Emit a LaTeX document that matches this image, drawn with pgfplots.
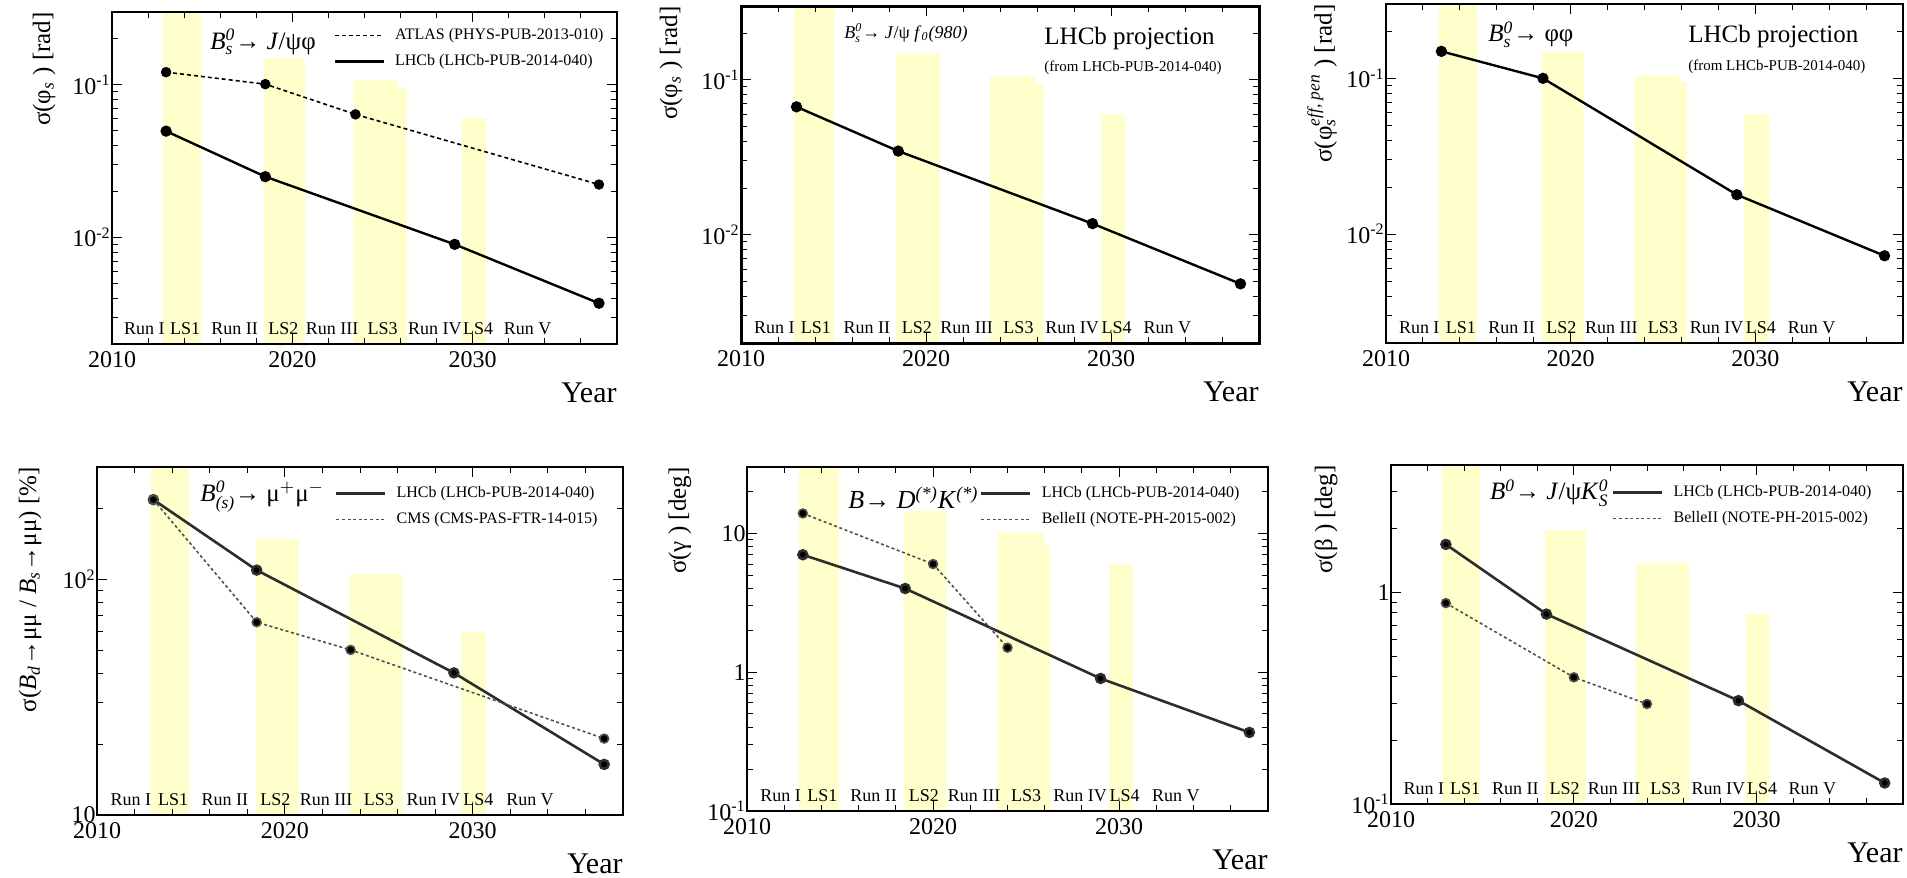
\documentclass[border=0pt]{standalone}
\usepackage{amsmath}
\usepackage{fontspec}
\setmainfont{Liberation Serif}
\usepackage{pgfplots}
\pgfplotsset{compat=1.18}

\definecolor{lsyel}{RGB}{255,255,204}
\definecolor{dkline}{RGB}{45,45,45}
\definecolor{dsline}{RGB}{80,80,80}

\tikzset{
  runlab/.style={anchor=base, yshift=4.75pt, inner sep=0pt, font=\fontsize{9}{9}\selectfont},
  proc/.style={anchor=west, inner sep=0pt, font=\fontsize{12.5}{12.5}\selectfont},
  mainline/.style={black, line width=1.2pt, mark=*, mark size=2.2pt, mark options={solid, fill=black}},
  altline/.style={black, line width=0.8pt, dash pattern=on 2pt off 1.5pt, mark=*, mark size=2.2pt, mark options={solid, fill=black}},
  mainlineb/.style={dkline, line width=1.3pt, mark=*, mark size=2.2pt, mark options={solid, fill=black}},
  altlineb/.style={dsline, line width=0.8pt, dash pattern=on 1.5pt off 1.3pt, mark=*, mark size=2.2pt, mark options={solid, fill=black}},
}

\pgfplotsset{
  lhcb/.style={
    scale only axis, anchor=south west,
    xmin=2010, xmax=2038,
    xtick={2010,2020,2030}, minor xtick={2012,2014,...,2038},
    tick align=inside,
    axis line style={line width=0.75pt},
    major tick length=5pt, minor tick length=3pt,
    every tick/.style={black, line width=0.5pt},
    tick label style={font=\fontsize{12}{12}\selectfont},
    xticklabel style={/pgf/number format/1000 sep={}, /pgf/number format/assume math mode=true},
    yticklabel style={inner sep=0.5pt},
    axis on top,
    xlabel={Year},
    xlabel style={at={(rel axis cs:1,0)}, anchor=north east, yshift=-19pt, inner sep=0pt,
      font=\fontsize{15}{15}\selectfont},
    ylabel style={anchor=east, inner sep=0pt, font=\fontsize{12.5}{12.5}\selectfont},
    legend cell align=left,
    legend image code/.code={\draw[##1, mark=none] (0pt,0pt) -- (24.5pt,0pt);},
    legend style={anchor=north east, draw=none, fill=none, inner sep=0pt, row sep=4pt,
      font=\fontsize{8}{8}\selectfont, nodes={inner sep=1pt},
      /tikz/every odd column/.append style={column sep=4pt}},
  },
  toprow/.style={ytick={0.01,0.1}, yticklabels={10\textsuperscript{-2},10\textsuperscript{-1}},
    minor ytick={0.002,0.003,0.004,0.005,0.006,0.007,0.008,0.009,0.02,0.03,0.04,0.05,0.06,0.07,0.08,0.09,0.2,0.3},
    ymin=0.002, ymax=0.3},
}

\newcommand{\runlabels}{%
  \node[runlab] at (rel axis cs:0.0643,0) {Run I};
  \node[runlab] at (rel axis cs:0.1446,0) {LS1};
  \node[runlab] at (rel axis cs:0.2429,0) {Run II};
  \node[runlab] at (rel axis cs:0.3393,0) {LS2};
  \node[runlab] at (rel axis cs:0.4357,0) {Run III};
  \node[runlab] at (rel axis cs:0.5357,0) {LS3};
  \node[runlab] at (rel axis cs:0.6393,0) {Run IV};
  \node[runlab] at (rel axis cs:0.7250,0) {LS4};
  \node[runlab] at (rel axis cs:0.8232,0) {Run V};
}

\begin{document}
\begin{tikzpicture}
\useasboundingbox (0pt,0pt) rectangle (953.5pt,-439pt);

% ---- row 1, panel 1: Bs -> J/psi phi
\begin{semilogyaxis}[lhcb, toprow, at={(56pt,-172pt)}, width=252.5pt, height=166pt,
  ylabel={σ(φ$_{\textit{s}}$ ) [rad]},
  ylabel style={at={([xshift=-34pt]rel axis cs:0,1)}},
  legend style={at={(rel axis cs:0.978,0.958)}}]
\addplot[fill=lsyel, draw=none, forget plot] coordinates {(2012.85,1e-5) (2012.85,1e3) (2014.95,1e3) (2014.95,1e-5)};
\addplot[fill=lsyel, draw=none, forget plot] coordinates {(2018.4,1e-5) (2018.4,0.15) (2020.7,0.15) (2020.7,1e-5)};
\addplot[fill=lsyel, draw=none, forget plot] coordinates {(2023.4,1e-5) (2023.4,0.107) (2025.85,0.107) (2025.85,0.096) (2026.35,0.096) (2026.35,1e-5)};
\addplot[fill=lsyel, draw=none, forget plot] coordinates {(2029.4,1e-5) (2029.4,0.061) (2030.75,0.061) (2030.75,1e-5)};
\addplot[altline] coordinates {(2013,0.121) (2018.5,0.101) (2023.5,0.064) (2037,0.0222)};
\addlegendentry{ATLAS (PHYS-PUB-2013-010)}
\addplot[mainline] coordinates {(2013,0.0497) (2018.5,0.025) (2029,0.009) (2037,0.0037)};
\addlegendentry{LHCb (LHCb-PUB-2014-040)}
\runlabels
\node[proc] at (rel axis cs:0.194,0.91) {\textit{B}$^{\textit{0}}_{\textit{s}}$→ \textit{J}/ψφ};
\end{semilogyaxis}

% ---- row 1, panel 2: Bs -> J/psi f0
\begin{semilogyaxis}[lhcb, toprow, at={(370.5pt,-171.5pt)}, width=259pt, height=168.5pt,
  axis line style={line width=1.5pt},
  ylabel={σ(φ$_{\textit{s}}$ ) [rad]},
  ylabel style={at={([xshift=-35pt]rel axis cs:0,1)}}]
\addplot[fill=lsyel, draw=none, forget plot] coordinates {(2012.85,1e-5) (2012.85,1e3) (2015.0,1e3) (2015.0,1e-5)};
\addplot[fill=lsyel, draw=none, forget plot] coordinates {(2018.4,1e-5) (2018.4,0.149) (2020.75,0.149) (2020.75,1e-5)};
\addplot[fill=lsyel, draw=none, forget plot] coordinates {(2023.45,1e-5) (2023.45,0.105) (2025.9,0.105) (2025.9,0.095) (2026.35,0.095) (2026.35,1e-5)};
\addplot[fill=lsyel, draw=none, forget plot] coordinates {(2029.45,1e-5) (2029.45,0.06) (2030.75,0.06) (2030.75,1e-5)};
\addplot[mainline] coordinates {(2013,0.067) (2018.5,0.0347) (2029,0.0118) (2037,0.00482)};
\runlabels
\node[proc, font=\fontsize{9}{9}\selectfont] at (rel axis cs:0.199,0.92) {\textit{B}$^{\textit{0}}_{\textit{s}}$\textit{→ J}/ψ \textit{f}$_{\textit{0}}$\textit{(980)}};
\node[proc] at (rel axis cs:0.585,0.905) {LHCb projection};
\node[proc, font=\fontsize{7.5}{7.5}\selectfont] at (rel axis cs:0.585,0.816) {(from LHCb-PUB-2014-040)};
\end{semilogyaxis}

% ---- row 1, panel 3: Bs -> phi phi
\begin{semilogyaxis}[lhcb, toprow, at={(693pt,-171.5pt)}, width=258.5pt, height=169.5pt,
  ylabel={σ(φ$^{\textit{eff, pen}}_{\textit{s}}$ ) [rad]},
  ylabel style={at={([xshift=-32pt]rel axis cs:0,1)}}]
\addplot[fill=lsyel, draw=none, forget plot] coordinates {(2012.85,1e-5) (2012.85,1e3) (2014.95,1e3) (2014.95,1e-5)};
\addplot[fill=lsyel, draw=none, forget plot] coordinates {(2018.45,1e-5) (2018.45,0.148) (2020.73,0.148) (2020.73,1e-5)};
\addplot[fill=lsyel, draw=none, forget plot] coordinates {(2023.45,1e-5) (2023.45,0.104) (2025.9,0.104) (2025.9,0.095) (2026.3,0.095) (2026.3,1e-5)};
\addplot[fill=lsyel, draw=none, forget plot] coordinates {(2029.4,1e-5) (2029.4,0.059) (2030.75,0.059) (2030.75,1e-5)};
\addplot[mainline] coordinates {(2013,0.149) (2018.5,0.1) (2029,0.0179) (2037,0.00726)};
\runlabels
\node[proc] at (rel axis cs:0.197,0.909) {\textit{B}$^{\textit{0}}_{\textit{s}}$→ φφ};
\node[proc] at (rel axis cs:0.584,0.903) {LHCb projection};
\node[proc, font=\fontsize{7.5}{7.5}\selectfont] at (rel axis cs:0.584,0.814) {(from LHCb-PUB-2014-040)};
\end{semilogyaxis}

% ---- row 2, panel 4: B(s) -> mu mu ratio
\begin{semilogyaxis}[lhcb, at={(48.5pt,-407.5pt)}, width=263pt, height=174pt,
  ymin=10, ymax=300, ytick={10,100}, yticklabels={10,10\textsuperscript{2}},
  minor ytick={20,30,40,50,60,70,80,90,200,300},
  ylabel={σ(\textit{B}$_{\textit{d}}$→μμ / \textit{B}$_{\textit{s}}$→μμ) [\%]},
  ylabel style={at={([xshift=-33.5pt]rel axis cs:0,1)}},
  legend style={at={(rel axis cs:0.956,0.951)}}]
\addplot[fill=lsyel, draw=none, forget plot] coordinates {(2012.85,1) (2012.85,1e4) (2014.92,1e4) (2014.92,1)};
\addplot[fill=lsyel, draw=none, forget plot] coordinates {(2018.45,1) (2018.45,149) (2020.74,149) (2020.74,1)};
\addplot[fill=lsyel, draw=none, forget plot] coordinates {(2023.43,1) (2023.43,105) (2026.3,105) (2026.3,1)};
\addplot[fill=lsyel, draw=none, forget plot] coordinates {(2029.4,1) (2029.4,60) (2030.7,60) (2030.7,1)};
\addplot[mainlineb] coordinates {(2013,218) (2018.5,109.5) (2029,40.1) (2037,16.4)};
\addlegendentry{LHCb (LHCb-PUB-2014-040)}
\addplot[altlineb] coordinates {(2013,218) (2018.5,65.8) (2023.5,50.2) (2037,21.1)};
\addlegendentry{CMS (CMS-PAS-FTR-14-015)}
\runlabels
\node[proc] at (rel axis cs:0.196,0.914) {\textit{B}$^{\textit{0}}_{\textit{(s)}}$→ μ$^{+}$μ$^{-}$};
\end{semilogyaxis}

% ---- row 2, panel 5: gamma
\begin{semilogyaxis}[lhcb, at={(373.5pt,-405.5pt)}, width=260.5pt, height=172pt,
  ymin=0.1, ymax=30, ytick={0.1,1,10}, yticklabels={10\textsuperscript{-1},1,10},
  minor ytick={0.2,0.3,0.4,0.5,0.6,0.7,0.8,0.9,2,3,4,5,6,7,8,9,20,30},
  ylabel={σ(γ ) [deg]},
  ylabel style={at={([xshift=-33.5pt]rel axis cs:0,1)}},
  legend style={at={(rel axis cs:0.95,0.951)}}]
\addplot[fill=lsyel, draw=none, forget plot] coordinates {(2012.82,0.01) (2012.82,1e3) (2014.96,1e3) (2014.96,0.01)};
\addplot[fill=lsyel, draw=none, forget plot] coordinates {(2018.44,0.01) (2018.44,14.5) (2020.75,14.5) (2020.75,0.01)};
\addplot[fill=lsyel, draw=none, forget plot] coordinates {(2023.46,0.01) (2023.46,10.1) (2025.97,10.1) (2025.97,8.1) (2026.32,8.1) (2026.32,0.01)};
\addplot[fill=lsyel, draw=none, forget plot] coordinates {(2029.45,0.01) (2029.45,6) (2030.77,6) (2030.77,0.01)};
\addplot[mainlineb] coordinates {(2013,7) (2018.5,4) (2029,0.9) (2037,0.368)};
\addlegendentry{LHCb (LHCb-PUB-2014-040)}
\addplot[altlineb] coordinates {(2013,13.9) (2020,6) (2024,1.5)};
\addlegendentry{BelleII (NOTE-PH-2015-002)}
\runlabels
\node[proc, font=\fontsize{13}{13}\selectfont] at (rel axis cs:0.194,0.91) {\textit{B}→ \textit{D}$^{\textit{(*)}}$\textit{K}$^{\textit{(*)}}$};
\end{semilogyaxis}

% ---- row 2, panel 6: beta
\begin{semilogyaxis}[lhcb, at={(695.5pt,-402pt)}, width=256pt, height=169.5pt,
  ymin=0.1, ymax=4, ytick={0.1,1}, yticklabels={10\textsuperscript{-1},1},
  minor ytick={0.2,0.3,0.4,0.5,0.6,0.7,0.8,0.9,2,3,4},
  ylabel={σ(β ) [deg]},
  ylabel style={at={([xshift=-32.5pt]rel axis cs:0,1)}},
  legend style={at={(rel axis cs:0.943,0.947)}}]
\addplot[fill=lsyel, draw=none, forget plot] coordinates {(2012.8,0.01) (2012.8,1e3) (2014.86,1e3) (2014.86,0.01)};
\addplot[fill=lsyel, draw=none, forget plot] coordinates {(2018.4,0.01) (2018.4,1.97) (2020.68,1.97) (2020.68,0.01)};
\addplot[fill=lsyel, draw=none, forget plot] coordinates {(2023.4,0.01) (2023.4,1.38) (2026.28,1.38) (2026.28,0.01)};
\addplot[fill=lsyel, draw=none, forget plot] coordinates {(2029.4,0.01) (2029.4,0.79) (2030.68,0.79) (2030.68,0.01)};
\addplot[mainlineb] coordinates {(2013,1.686) (2018.5,0.79) (2029,0.308) (2037,0.1257)};
\addlegendentry{LHCb (LHCb-PUB-2014-040)}
\addplot[altlineb] coordinates {(2013,0.89) (2020,0.397) (2024,0.297)};
\addlegendentry{BelleII (NOTE-PH-2015-002)}
\runlabels
\node[proc] at (rel axis cs:0.193,0.917) {\textit{B}$^{\textit{0}}$→ \textit{J}/ψ\textit{K}$^{\textit{0}}_{\textit{S}}$};
\end{semilogyaxis}
\end{tikzpicture}
\end{document}
